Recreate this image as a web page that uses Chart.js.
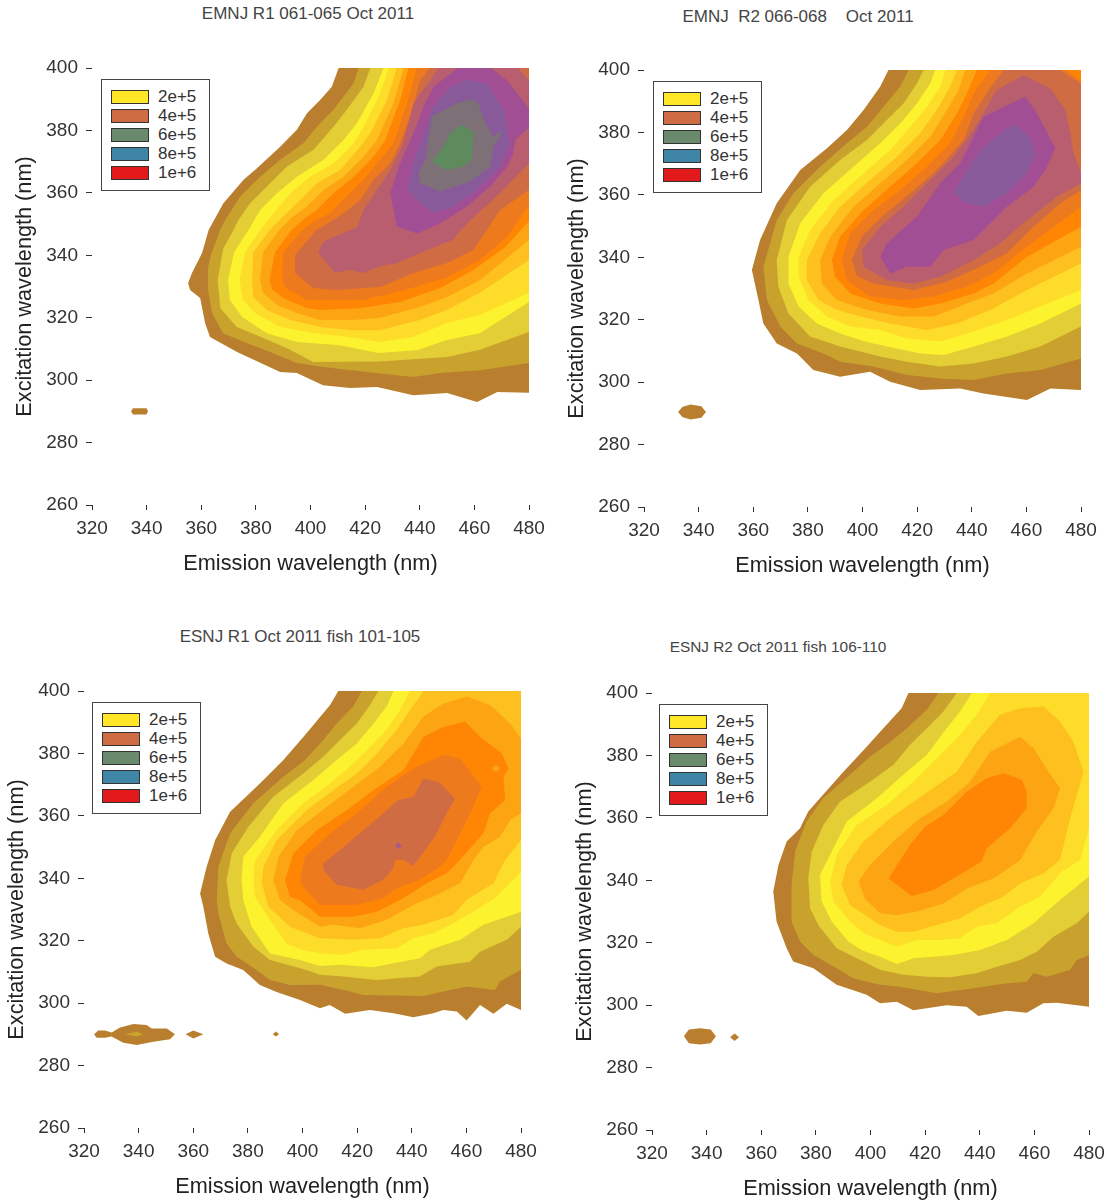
<!DOCTYPE html>
<html>
<head>
<meta charset="utf-8">
<script src="https://cdn.jsdelivr.net/npm/chart.js@4"></script>
<style>
body { margin: 0; background: #fff; width: 1107px; height: 1202px; position: relative; overflow: hidden; font-family: "Liberation Sans", Arial, sans-serif; color: #333; }
canvas { position: absolute; }
.title { position: absolute; white-space: pre; color: #444; transform: translate(-50%, -50%); }
.legend { position: absolute; width: 109px; height: 112px; box-sizing: border-box; border: 1.5px solid #444; background: #fff; }
.legend div { position: absolute; left: 9px; height: 19px; line-height: 19px; font-size: 17px; }
.legend i { position: absolute; left: 0; top: 2px; width: 36px; height: 12px; border: 1.5px solid #333; }
.legend span { position: absolute; left: 47px; top: -1px; }
</style>
</head>
<body>
<script>
// contour colours, outermost level first
const levelColors = ['#B97F2E', '#C9A22E', '#E3CE35', '#FCF32E', '#FDDD2A', '#FEC01F', '#FDA413', '#FF8505', '#EE7A1E', '#D06C43', '#B85E6E', '#A24E94', '#895A9A', '#7D7077', '#5F8A5E'];
const legendLabels = ['2e+5', '4e+5', '6e+5', '8e+5', '1e+6'];
const legendColors = ['#FFE626', '#D06C43', '#6A8A6E', '#3F85A6', '#E21A1C'];
const xTicks = [320, 480];
const yTicks = [260, 400];

// EMNJ R1: polygons in (emission nm, excitation nm)
const a1 = [[410.3,400],[407.8,394],[403.6,389.8],[398.7,385.5],[395,380.2],[388.9,374.8],[380.4,367.9],[375.5,364.2],[368.1,356.7],[362.7,348.1],[360.3,340.7],[356.6,334.3],[355.2,331.1],[355.9,328.9],[359.6,326.3],[361.4,318.3],[363.2,313.8],[373.1,309],[388.9,302.6],[395,302.3],[404.6,298.4],[414.5,297.5],[424.4,297.8],[437.6,295.2],[450,295.9],[461,293],[468.4,296.2],[480,296],[480,400]];
const a2 = [[417.6,400],[415.8,395.1],[408.4,386.6],[403,381.8],[397.4,375.9],[388.9,370.6],[381.6,365.2],[374.3,358.8],[368.8,351.3],[366.9,348.1],[363.5,340],[362.5,336.2],[362.5,328.9],[364,321.4],[368,315],[376.8,311.8],[385.2,309],[395,305.5],[404.6,304.2],[420.7,302.6],[437.6,301],[447.5,302.3],[462,303.2],[480,305.5],[480,400]];
const a3 = [[421.9,400],[419.4,394],[413.3,386.6],[408.4,381.2],[401.1,373.8],[391.3,368.4],[385.2,363.1],[377.9,356.7],[373.6,351.3],[371.8,348.1],[368,342],[366,332],[367,323],[373,317],[381.5,314],[392,310],[401,305.8],[425,306],[450,307.4],[462,309.7],[480,315.4],[480,400]];
const a4 = [[426.8,400],[423.1,391.9],[417,382.3],[412.1,376.9],[404.8,370.6],[395,365.2],[387.7,359.9],[381.6,354.5],[377.3,348.1],[372,341],[369.8,332],[370.5,325.7],[375,320.2],[384,315],[395,312.2],[410.8,311.2],[424.8,308.7],[439,309.6],[450,312.9],[462,315],[480,325],[480,400]];
const a5 = [[428.6,400],[425.5,391.9],[419.4,381.2],[415.8,375.9],[408.4,369.5],[399.9,365.2],[392.6,359.9],[386.5,353.5],[381.6,348.1],[376,341],[374,332],[375.3,325.7],[379.7,321.5],[389,317],[401,315.1],[413.4,313.8],[425.5,312.2],[437.6,313.8],[450,318.3],[462,320.9],[480,328],[480,400]];
const a6 = [[431.6,400],[428,389.8],[421.9,379.1],[418.2,374.8],[410.9,367.4],[402.3,363.1],[395,356.7],[389.5,352],[385,348],[379,341],[378.6,332],[379,326.6],[384,322.5],[392.5,319.3],[403.5,317],[415.6,316],[425.5,316],[440,319.3],[450,322.5],[462,328],[480,338.5],[480,400]];
const a7 = [[434.1,400],[430.4,388.7],[424.3,376.9],[419.4,371.6],[412.1,365.2],[404.8,360.9],[398.7,355.6],[393,352],[388.5,348],[382.6,341],[381.5,332],[382.6,328],[387.8,324],[395,321.5],[403.5,319.3],[415.6,319.3],[425.5,320],[440,323.4],[450,326.6],[462,332],[480,345],[480,400]];
const a8 = [[435.9,400],[432.9,389.8],[427.4,376.9],[423.1,371.6],[415.8,365.2],[408.4,359.9],[402.3,354.5],[397.5,351.5],[393,348],[387,341],[385,332],[386,329],[390,326.3],[398.7,323],[403.5,322.5],[418,323],[432.8,325],[447.5,329.5],[459.6,335.3],[471.3,342.6],[480,351],[480,400]];
const a9 = [[439,400],[435.3,388.7],[430.4,375.9],[425.5,370.6],[419.4,364.2],[413.3,358.8],[407.2,353.5],[401.5,351],[397,348],[390,341],[389.6,332],[391,329.5],[398.7,325.7],[419.3,325.7],[435.3,329],[450,333],[462,338.5],[472,345.9],[480,356],[480,400]];
const a10 = [[443.8,400],[440.2,396.2],[436.5,384.4],[432.9,375.9],[429.2,369.5],[423.1,364.2],[418.2,357.7],[412.1,353.5],[406,350],[402,348],[394.3,340],[394.3,334.3],[401,329.5],[409.7,328.9],[425.5,329.8],[437.6,334.3],[450,337.5],[459.6,341.7],[469.5,354.5],[480,361],[480,400]];
const a11 = [[446.7,400],[476,400],[480,396],[480,369.6],[469.5,360],[457.4,350.3],[451.9,344.9],[440,340.7],[431.7,337.5],[424.4,336.2],[419.3,334.3],[414.5,335.3],[409,334.3],[402.8,340.7],[404.6,344.3],[417,349],[419.4,354.5],[424.3,361],[429.2,367.4],[433.5,374.8],[437.7,388.7],[443.8,396]];
const a12 = [[454,400],[466,400],[472,396],[480,387],[480,381],[475,377],[474,372],[472,368.4],[465.8,362],[457.2,355.6],[447.5,350.3],[439,347],[431.6,349.2],[430.4,354.5],[429.2,359.9],[432.8,369.5],[437.7,379],[441.4,387.6],[445,394]];
const a13 = [[457.2,396.2],[464.6,395.1],[470.7,386.6],[473.1,375.9],[469.5,368.4],[460.9,361],[452.4,355.6],[445,353.5],[438.9,357.7],[435.3,361],[437.7,369.5],[441.4,379],[445,387.6],[451.1,394]];
const a14 = [[459,390],[461.5,388.7],[464,382.3],[467,378],[470,380],[469.5,378],[467,375],[465.8,368.4],[458.5,363.6],[447.5,360.4],[440.2,363.1],[439.5,366.3],[442,370.6],[444.4,384.4],[453.6,388.7]];
const a15 = [[455.4,381.8],[459.7,379.6],[459.1,370.6],[456,368.4],[449.9,367.4],[444.4,370],[448.7,374.8],[451.1,379]];
const aSpot = [[334.3,290],[335,291],[340,291],[340.5,290],[340,289],[335,289]];

// EMNJ R2
const b1 = [[409.5,400],[406.5,394.7],[400.4,387.2],[394.3,380.8],[387,374.9],[377.2,368],[368.6,357.3],[362.5,345.5],[359.5,335.9],[361.9,326.3],[363.7,318.8],[368.6,312.4],[376,309.2],[382,303.9],[391.8,301.7],[402.8,303.3],[410.1,300.1],[421.1,297.5],[435.8,298],[444.3,296.4],[460.2,294.3],[468.8,298],[480,297.5],[480,400]];
const b2 = [[416.9,400],[413.8,394.7],[407.7,388.2],[401.6,381.8],[394.3,376.5],[384.5,369],[374.7,360.5],[368.6,351.9],[363.7,337],[365,326.3],[369.9,317.8],[376,312.4],[385.7,309.2],[391.8,306.5],[404,305],[416.3,302.3],[428.5,301.2],[440.7,300.7],[452.9,302.8],[465.1,303.9],[480,307.6],[480,400]];
const b3 = [[422.4,400],[419.9,395.7],[415,389.3],[408.9,384],[401.6,377.6],[391.8,371.2],[380.8,362.6],[372.3,351.9],[368.6,339.1],[369.2,330.6],[372.9,322],[380.8,314.6],[391.8,311.4],[406.5,308.2],[416.3,306.5],[428.5,305],[440.7,306],[452.9,308.2],[465.1,311.4],[480,317.8],[480,400]];
const b4 = [[426.6,400],[424.8,395.7],[419.9,389.3],[413.8,382.9],[406.5,376.5],[396.7,369],[385.7,360.5],[377.2,350.9],[372.9,340.2],[372.9,331.6],[376.6,324.2],[383.3,318.8],[391.8,315.6],[401.6,312.9],[412.6,310.8],[421.1,309.2],[429.7,308.7],[440.7,311.4],[452.9,314.6],[465.1,318.8],[480,325.2],[480,400]];
const b5 = [[430.3,400],[428.5,394.7],[423.6,388.2],[417.5,381.8],[410.1,374.4],[400.4,366.9],[389.4,358.3],[380.8,348.7],[376.6,340.2],[376.6,333.8],[380.2,326.3],[387,321],[395.5,317.8],[406.5,316.7],[416.3,314],[428.5,313],[440.7,316.2],[452.9,319.9],[465.1,324.2],[480,329.5],[480,400]];
const b6 = [[434.6,400],[432.1,394.7],[427.2,387.2],[421.1,379.7],[412.6,372.2],[402.8,364.8],[391.8,356.2],[384.5,347.7],[379.6,339.1],[379.6,332.7],[383.9,326.3],[390.6,323.1],[399.2,321],[410.1,318.8],[423.6,316.7],[434.6,318.8],[446.8,323.1],[460.2,329.5],[480,338],[480,400]];
const b7 = [[437.6,400],[435.2,393.6],[430.9,387.2],[424.8,378.6],[416.3,371.2],[406.5,363.7],[396.7,356.2],[388.2,346.6],[384.5,339.1],[385.1,331.6],[390.6,326.3],[401.6,323.1],[413.8,321],[426,321],[438.2,325.2],[448,328.4],[460.2,334.8],[480,343.4],[480,400]];
const b8 = [[441.9,400],[438.2,392.5],[434.6,386.1],[428.5,377.6],[419.9,370.1],[410.1,362.6],[400.4,355.1],[391.8,346.6],[388.8,339.1],[390,333.8],[395.5,328.4],[406.5,325.2],[418.7,323.6],[428.5,325.2],[440.7,328.4],[448,331.6],[460.2,340.2],[480,349.8],[480,400]];
const b9 = [[446.8,400],[440.7,392.5],[437,385],[432.1,376.5],[423.6,369],[413.8,361.5],[404,355.1],[395.5,347.7],[392.4,339.1],[394.3,332.7],[402.8,327.4],[415,326.3],[426,327.4],[438.2,330.6],[448,334.8],[460.2,343.4],[480,356.2],[480,396.3],[474.9,400]];
const b10 = [[451.7,400],[446.2,393.6],[440.7,386.1],[437,377.6],[427.2,368],[417.5,360.5],[407.7,353.5],[400,347],[396.1,339.1],[398,334],[404,331.6],[418.7,329.5],[430.9,332.2],[443.1,337],[452.9,341.3],[462.6,349.8],[472.4,357.3],[480,361.5],[480,395.7],[472.4,400]];
const b11 = [[459,398.4],[468.8,394.1],[474.2,387.2],[476.1,379.7],[477.3,373.3],[480,366.9],[480,363.7],[471.2,359.4],[460.2,351.9],[450.4,344.5],[440.7,339.1],[428.5,333.8],[418.7,331.6],[408.9,332.7],[400.4,337],[399.8,342.3],[406.5,349.8],[415,356.2],[423.6,363.7],[433.3,372.2],[440.7,380.8],[449.2,393.6]];
const b12 = [[459.6,391.5],[463.9,386.1],[470.6,374.9],[466.9,368],[462.6,362.6],[452.9,356.2],[440.7,345.5],[429.7,342.3],[424.8,337],[416.3,337],[410.1,334.8],[406.5,340.2],[408.9,344.5],[419.9,353],[428.5,363.7],[435.8,370.1],[444.3,385]];
const b13 = [[455.3,382.9],[461.4,378.6],[463.3,373.3],[460.2,366.9],[452.9,360.5],[444.3,356.2],[438.2,357.3],[433.3,360.5],[438.2,368],[443.1,374.4],[449.2,378.6]];
const bSpot = [[332.5,290.4],[334,292],[337,292.8],[341,292.3],[342.7,290.4],[341,288.6],[337,288],[334,288.8]];

// ESNJ R1
const c1 = [[413.1,400],[410.1,395.5],[404,389.1],[400.3,385.3],[393,377.9],[384.4,370.4],[373.5,361.3],[368,352.2],[364.9,343.7],[362.5,335.1],[363.7,330.9],[365.5,322.3],[368,314.9],[372.2,312.7],[378.3,310.6],[384.4,305.8],[390.5,303.6],[399.1,301],[406.4,298.4],[410,299.4],[415.6,296.6],[424.7,297.8],[433.3,296.8],[440.6,295.5],[447.9,296.8],[451.6,297.8],[456.5,297.3],[460.1,294.4],[465,299.4],[469.9,296.6],[474.8,299.8],[480,297.8],[480,400]];
const c2 = [[421.7,400],[418.6,395],[412.5,389.6],[407.6,384.3],[400.9,377.9],[393,372.5],[382,364],[373.5,354.4],[369.2,343.7],[368.6,333],[369.2,328.7],[372.2,319.1],[375.9,314.9],[383.2,310.6],[388.1,307.4],[395.4,305.8],[406.4,305.9],[417.4,303.7],[422.3,302.6],[444.3,302.3],[451.6,303.7],[460.1,305.3],[470.5,304.2],[472.3,306.9],[480,310.7],[480,400]];
const c3 = [[427.8,400],[424.7,395.5],[419.9,389.6],[413.7,384.3],[407.6,378.9],[400.3,373.6],[389.3,366.1],[380.2,356.5],[374.1,348],[372.2,339.4],[373.5,330.9],[375.9,325.5],[382,318.1],[388.1,313.8],[401.5,310.6],[406.4,309.1],[414.9,308.5],[427.2,307.4],[434.5,308],[443,308.5],[449.1,311.7],[461.3,313.3],[465,316.5],[474.8,320.3],[480,324.5],[480,400]];
const c4 = [[433.3,400],[430.8,395],[426,389.6],[419.9,383.2],[412.5,377.9],[404,371.5],[393,364],[384.4,353.3],[378.3,346.9],[377.7,339.4],[378.3,333],[381.4,324.5],[388.1,315.9],[399.1,313.8],[406.4,311.9],[413.7,312.3],[425.9,311.5],[433.3,312.8],[443,314.4],[446.7,317.1],[457.7,320.3],[466.2,325.1],[474.8,327.7],[480,329.3],[480,400]];
const c5 = [[439.4,400],[435.7,393.9],[430.8,387.5],[426,383.2],[418.6,376.8],[410.1,370.4],[400.3,364],[390.5,355.4],[382.6,345.8],[382,339.4],[382.6,334.1],[388.1,326.6],[394.2,319.1],[400,317],[406.4,316],[415,315.5],[422.3,317.1],[434.5,317.6],[440.6,320.8],[447.9,322.4],[455.2,325.6],[463.8,329.9],[471.1,334.2],[480,342.2],[480,400]];
const c6 = [[444.3,400],[439.4,393.9],[434.5,387.5],[427.2,380],[419.9,373.6],[411.3,368.3],[401.5,361.8],[390.5,352.2],[385.7,343.7],[385.1,338.4],[387.5,330.9],[395.4,324.5],[406.4,320.8],[418.6,320.3],[428.4,320.8],[436.9,324],[444.3,325.1],[455.2,328.3],[460.1,333.1],[469.9,338.4],[474.2,345.9],[480,352.2],[480,400]];
const c7 = [[460.1,398.2],[468.7,395.5],[476,389.6],[480,384.8],[480,360.8],[476,358.6],[472.4,353.3],[466.2,350],[462.6,345.9],[457.7,338.4],[447.9,334.2],[441.8,332],[430.8,326.7],[421,324],[411.3,325.1],[406.4,324.5],[396.7,329.8],[391.8,333],[389.3,339.4],[391.2,346.9],[397.9,355.4],[408.9,362.9],[418.6,369.3],[428.4,375.7],[437,383.2],[444.3,391.8],[451.6,396]];
const c8 = [[459.5,390.2],[465,385.3],[473,380],[475.4,375.2],[473.6,372.5],[474.2,365],[468.7,360.8],[466.2,354.4],[457.7,345.9],[452.8,341.6],[445.5,338.4],[436.9,333.6],[427.2,329.3],[418.6,327.7],[406.4,327.7],[399.1,333],[395.4,334.1],[393.6,339.4],[396.7,348],[405.2,355.4],[416.2,361.8],[426,368.3],[437,374.7],[444.3,385.3],[451.6,388.5]];
const c9 = [[451.6,379.5],[457.7,378.4],[465.6,369.3],[461.4,360.8],[456.5,352.2],[452.8,345.9],[450.4,343.8],[443,339.5],[434.5,336.8],[429.6,333.6],[419.8,331.5],[406.4,331.5],[400.3,337.3],[399.1,339.4],[400.9,346.9],[410.1,354.4],[419.9,360.8],[430.8,369.3],[441.8,375.7]];
const c10 = [[444.3,372],[449.8,370.9],[455.9,365.6],[452.8,360.8],[448.5,353.3],[440.6,344],[436.9,345.9],[433.9,345.9],[433.3,343.2],[429.6,339.5],[422.3,336.3],[412.5,337.9],[407.6,342.7],[407.6,344.8],[413.7,349],[422.3,355.4],[429.6,360.8],[435.1,365.1],[440.6,366.1]];
const cDot = [[469.3,375.2],[470.8,376.3],[472.3,375.2],[470.8,374.1]];
const cPeak = [[433.8,350.4],[435.1,351.5],[436.4,350.4],[435.1,349.3]];
const cSpot1 = [[323.7,290],[325.2,291.2],[327.7,291.2],[330.1,290.6],[333.2,292.2],[338.1,293.3],[342.9,293],[344.8,291.9],[350.3,291.9],[353.3,290],[351.5,288.4],[345.4,287.6],[339.3,286.6],[334.4,287.3],[330.1,289.3],[327.7,288.9],[324.6,288.9]];
const cSpot1Core = [[335,290],[339.3,290.9],[341.7,290],[339.3,289.3]];
const cSpot2 = [[357.2,290],[360,291.2],[363.7,290],[360,288.7]];
const cSpot3 = [[389.1,290],[390.3,290.9],[391.4,290],[390.3,289.3]];

// ESNJ R2
const d1 = [[413.9,400],[411.4,395.1],[404.7,388.7],[398.6,382.8],[390.1,374.8],[381.5,366.3],[377.2,362],[374.2,356.7],[369.3,352.4],[366.3,344.9],[364.4,336.4],[365.6,326.8],[369.3,318.2],[371.7,314],[379.1,311.8],[387.6,306.5],[398.6,303.3],[403.5,300.6],[409.6,301.1],[415.7,298.4],[427.9,300],[435.2,299.5],[439.5,296.5],[449.9,298.2],[457.2,297.6],[463.3,300.6],[468.2,300.8],[480,299.5],[480,400]];
const d2 = [[424.9,400],[420.6,394.6],[413.3,388.7],[406,383.4],[399.8,379.6],[392.5,373.8],[382.7,366.3],[376.6,358.8],[372.4,349.2],[371.1,338.5],[371.1,326.8],[374.2,320.4],[379.1,316.1],[387.6,311.8],[393.7,308.6],[403.5,306.5],[410.8,305.9],[424.3,303.8],[437.7,305.4],[449.9,307],[457.2,307.5],[459.7,310.2],[464.6,309.1],[473.1,311.3],[475.5,314.5],[480,316],[480,400]];
const d3 = [[431.6,400],[426.7,394.1],[420.6,388.7],[414.5,383.4],[408.4,377],[399.8,371.6],[388.8,365.2],[382.7,357.7],[378.5,349.2],[377.2,340.7],[377.9,331],[380.9,325.7],[387.6,318.2],[397.4,314],[403.5,311.3],[412,309.7],[420.6,309.1],[429.1,308.9],[438.9,310.2],[446.2,312.3],[454.8,314.5],[460.9,317.1],[467,321.9],[475.5,326.2],[480,329.9],[480,400]];
const d4 = [[437.1,400],[432.8,394.1],[427.9,388.7],[420.6,380.2],[412,373.8],[402.3,366.3],[391.3,358.8],[386.4,350.3],[381.5,341.7],[382.1,333.2],[385.8,326.8],[391.9,320.4],[397,317.5],[403.5,315.5],[409.6,313.2],[415.7,315],[423,315.5],[430.4,316.1],[440.1,317.7],[449.9,320.9],[459.7,326.2],[469.4,333.7],[480,341.2],[480,400]];
const d5 = [[443.8,400],[438.9,393],[432.8,386.6],[424.3,379.1],[415.7,371.6],[405.9,364.1],[394.9,357.7],[387.6,348.1],[385.2,339.6],[386.4,333.2],[392.5,326.8],[398,322.8],[403.5,320.9],[409.6,318.7],[416.9,320.9],[425.5,320.9],[432.8,321.4],[438.9,325.1],[446.2,326.2],[454.8,331.5],[462.1,334.8],[470,342.8],[476.8,346.5],[480,356.7],[480,400]];
const d6 = [[463.3,395.7],[469.4,390.9],[474.3,384.4],[478,374.8],[473.1,359.9],[469.4,346.5],[463.3,342.2],[454.8,339],[448.7,334.8],[440.1,331.5],[432.8,327.8],[424.3,325.7],[415.7,323.5],[409.6,323.5],[403.5,325.7],[392.5,332.1],[389.4,338.5],[391.3,344.9],[397.4,352.4],[407.2,359.9],[419.4,367.4],[431.6,374.8],[438.9,384.4],[447.4,393],[454.8,395.1]];
const d7 = [[454.8,386],[459.7,382.3],[465.2,374.8],[469.4,369.5],[467,363.1],[460.9,355.6],[454.8,346.5],[452.3,344.9],[445,340.6],[435.2,337.4],[426.7,332.6],[416.9,329.9],[409.6,328.9],[403.5,329.4],[398,334],[395.6,339.6],[399.8,344.9],[408.4,352.4],[418.1,359.9],[427.9,365.2],[436.5,371.6],[443.8,381.2]];
const d8 = [[448.7,374.3],[455.4,372.2],[457.2,368.4],[457.2,363.1],[451.1,356.7],[442.6,350.3],[440.7,346],[431.6,341.2],[423,336.9],[415.1,335],[406.6,340.6],[411.4,347.1],[414.5,351.3],[420,357.2],[426.7,360.9],[435.2,368.4],[442.6,372.7]];
const dSpot1 = [[331.7,290],[333.5,292.2],[337.5,292.6],[341.5,292.2],[343.4,290],[341.5,287.8],[337.5,287.4],[333.5,287.8]];
const dSpot2 = [[348.6,289.7],[350.2,290.9],[351.9,289.7],[350.2,288.5]];

function levelSets(polys) {
    return polys.map((p, i) => [p, levelColors[i]]);
}

const panels = [
    { left: 92, top: 68, sets: [[aSpot, levelColors[0]], ...levelSets([a1, a2, a3, a4, a5, a6, a7, a8, a9, a10, a11, a12, a13, a14, a15])] },
    { left: 644, top: 70, sets: [[bSpot, levelColors[0]], ...levelSets([b1, b2, b3, b4, b5, b6, b7, b8, b9, b10, b11, b12, b13])] },
    { left: 84, top: 691, sets: [[cSpot1, levelColors[0]], [cSpot1Core, levelColors[1]], [cSpot2, levelColors[0]], [cSpot3, levelColors[0]], ...levelSets([c1, c2, c3, c4, c5, c6, c7, c8, c9, c10]), [cDot, levelColors[6]], [cPeak, '#A65C88']] },
    { left: 652, top: 693, sets: [[dSpot1, levelColors[0]], [dSpot2, levelColors[0]], ...levelSets([d1, d2, d3, d4, d5, d6, d7, d8])] },
];

const titles = [
    ['EMNJ R1 061-065 Oct 2011', 308, 14, 17],
    ['EMNJ  R2 066-068    Oct 2011', 798, 17, 17],
    ['ESNJ R1 Oct 2011 fish 101-105', 300, 637, 17],
    ['ESNJ R2 Oct 2011 fish 106-110', 778, 647, 15.4],
];
const legendSpots = [[101, 79], [653, 81], [92, 702], [659, 704]];

titles.forEach(([text, x, y, size]) => {
    const el = document.createElement('div');
    el.className = 'title';
    el.textContent = text;
    el.style.left = x + 'px';
    el.style.top = y + 'px';
    el.style.fontSize = size + 'px';
    document.body.appendChild(el);
});

function axisFont(size) {
    return { family: '"Liberation Sans", Arial, sans-serif', size: size };
}

panels.forEach((panel, n) => {
    const canvas = document.createElement('canvas');
    canvas.width = 560;
    canvas.height = 552;
    canvas.style.left = (panel.left - 92) + 'px';
    canvas.style.top = (panel.top - 40) + 'px';
    document.body.appendChild(canvas);

    // the first dataset is painted last, so flip to keep inner levels on top
    const drawOrder = panel.sets.slice().reverse();

    new Chart(canvas, {
        type: 'scatter',
        data: {
            datasets: drawOrder.map(([poly, color]) => ({
                data: poly.map(p => ({ x: p[0], y: p[1] })),
                showLine: true,
                fill: 'shape',
                backgroundColor: color,
                borderColor: color,
                borderWidth: 0,
                pointRadius: 0,
                tension: 0,
            })),
        },
        options: {
            responsive: false,
            animation: false,
            layout: { padding: { top: 40, right: 31 } },
            plugins: { legend: { display: false }, tooltip: { enabled: false } },
            scales: {
                x: {
                    type: 'linear',
                    min: xTicks[0],
                    max: xTicks[1],
                    afterFit: s => { s.height = 75; },
                    border: { display: false },
                    grid: { drawOnChartArea: false, tickLength: 5, tickColor: '#333' },
                    ticks: { stepSize: 20, autoSkip: false, maxRotation: 0, color: '#333', font: axisFont(19), padding: 7 },
                    title: { display: true, text: 'Emission wavelength (nm)', color: '#222', font: axisFont(21.7), padding: { top: 0, bottom: 3 } },
                },
                y: {
                    type: 'linear',
                    min: yTicks[0],
                    max: yTicks[1],
                    afterFit: s => { s.width = 92; },
                    border: { display: false },
                    grid: { drawOnChartArea: false, tickLength: 6, tickColor: '#333' },
                    ticks: { stepSize: 20, autoSkip: false, color: '#333', font: axisFont(19), padding: 8 },
                    title: { display: true, text: 'Excitation wavelength (nm)', color: '#222', font: axisFont(21.7), padding: { top: 12, bottom: 0 } },
                },
            },
        },
    });

    const box = document.createElement('div');
    box.className = 'legend';
    box.style.left = legendSpots[n][0] + 'px';
    box.style.top = legendSpots[n][1] + 'px';
    legendLabels.forEach((label, i) => {
        const row = document.createElement('div');
        row.style.top = (8 + i * 19) + 'px';
        row.innerHTML = '<i style="background:' + legendColors[i] + '"></i><span>' + label + '</span>';
        box.appendChild(row);
    });
    document.body.appendChild(box);
});
</script>
</body>
</html>
